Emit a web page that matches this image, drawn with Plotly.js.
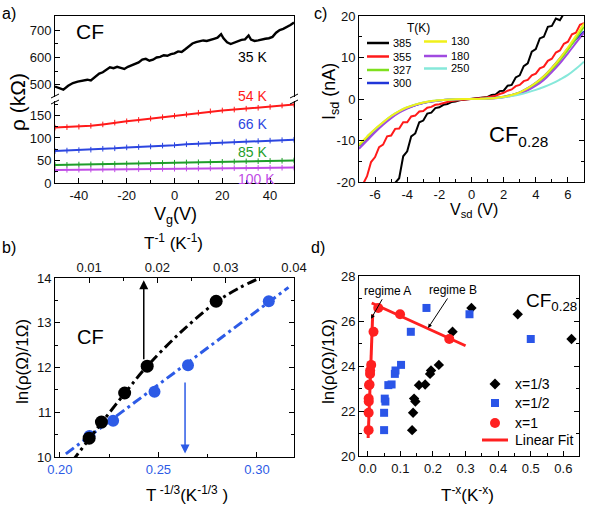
<!DOCTYPE html>
<html><head><meta charset="utf-8">
<script src="https://cdn.plot.ly/plotly-3.0.1.min.js"></script>
<style>html,body{margin:0;padding:0;background:#fff}#chart{width:600px;height:508px}</style>
</head><body><div id="chart"></div>
<script>
// ---------- Panel a: rho vs Vg ----------
const vg35 = [-50,-48.5,-46.5,-44.5,-42.5,-40.5,-38.5,-36.5,-35,-33.5,-31.5,-30,-28.5,-27,-25.5,-24,-22.5,-21,-19.5,-18,-16.5,-15,-13.5,-12,-10.5,-9,-7.5,-6,-4.5,-3,-1.5,0,1.5,3,4.5,6,7.5,9,10.5,12,13.5,15,16.5,18,19.5,20.5,22,23.5,25,26.5,28,29.5,31,32,33.5,35,36.5,38,39.5,41,42.5,44,45.5,47,48.5,50];
const rho35 = [494,490,483,497,507,512,515,519,516,528,541,546,556,564,561,566,562,558,566,571,576,582,592,595,588,592,600,602,608,606,612,615,622,620,630,640,651,656,658,662,660,665,668,672,685,670,655,649,654,658,664,666,680,665,660,662,666,668,670,675,690,700,704,710,718,727];
const vgLow = [-50,-45,-40,-35,-30,-25,-20,-15,-10,-5,0,5,10,15,20,25,30,35,40,45,50];
const rho54 = [123,124,125,127,130,134,137,140,143,146,149,152,156,159,161,163,165,167,169,172,174];
const rho66 = [71,72,73,74,76,77,79,80,81,83,84,86,87,89,90,91,92,93,94,95,96];
const rho85 = [40,40.3,41,41.4,42,42.3,43,43.5,44,44.4,45,45.6,46,46.4,47,47.5,48,48.4,49,49.4,50];
const rho100 = [29,29.2,29.5,29.8,30,30.3,30.6,30.9,31.2,31.4,31.7,32,32.3,32.5,32.8,33,33.3,33.5,33.7,33.9,34.2];
const aTempLabels = ['35 K','54 K','66 K','85 K','100 K'];
const aXTickVals = [-40,-20,0,20,40];
const aXTickText = ['-40','-20','0','20','40'];
const aYLowTicks = [0,50,100,150];
const aYHighTicks = [500,600,700];

// ---------- Panel b: ln(rho) vs T^-1 and T^-1/3 ----------
const invT = [0.0100,0.0118,0.0152,0.0185,0.0286];
const lnRhoInvT = [10.42,10.78,11.43,12.03,13.48];
const tCubeRoot = [0.215,0.227,0.248,0.265,0.306];
const lnRhoCube = [10.47,10.81,11.46,12.05,13.48];
const fitInvTx = [0.0075,0.0100,0.0118,0.0152,0.0185,0.0235,0.0286,0.0320,0.0350];
const fitInvTy = [9.90,10.40,10.76,11.42,12.03,12.80,13.46,13.78,14.00];
const fitCubeX = [0.203,0.316];
const fitCubeY = [10.07,13.79];
const bTopTicks = [0.01,0.02,0.03,0.04];
const bTopText = ['0.01','0.02','0.03','0.04'];
const bBotTicks = [0.20,0.25,0.30];
const bBotText = ['0.20','0.25','0.30'];

// ---------- Panel c: Isd vs Vsd ----------
const vsd = [-7,-6.5,-6,-5.5,-5,-4.5,-4,-3.5,-3,-2.5,-2,-1.5,-1,-0.5,0,0.5,1,1.5,2,2.5,3,3.5,4,4.5,5,5.5,6,6.5,7];
const vsd385 = [-5,-4.75,-4.5,-4.25,-4,-3.75,-3.5,-3.25,-3,-2.75,-2.5,-2.25,-2,-1.75,-1.5,-1.25,-1,-0.75,-0.5,-0.25,0,0.25,0.5,0.75,1,1.25,1.5,1.75,2,2.25,2.5,2.75,3,3.25,3.5,3.75,4,4.25,4.5,4.75,5,5.25,5.5,5.75,6];
const i385 = [-24,-20.2,-19.1,-13.8,-12.6,-9.0,-8.3,-5.6,-5.2,-3.5,-3.3,-2.2,-2.0,-1.4,-1.2,-0.75,-0.6,-0.3,-0.2,-0.08,0,0.1,0.18,0.4,0.5,0.95,1.1,1.9,2.0,3.2,3.4,5.2,5.7,7.9,8.6,11.4,12.0,14.6,15.0,17.4,17.6,19.4,19.0,20.6,21];
const vsd355 = [-7,-6.75,-6.5,-6.25,-6,-5.75,-5.5,-5.25,-5,-4.75,-4.5,-4.25,-4,-3.75,-3.5,-3.25,-3,-2.75,-2.5,-2.25,-2,-1.75,-1.5,-1.25,-1,-0.75,-0.5,-0.25,0,0.25,0.5,0.75,1,1.25,1.5,1.75,2,2.25,2.5,2.75,3,3.25,3.5,3.75,4,4.25,4.5,4.75,5,5.25,5.5,5.75,6,6.25,6.5,6.75,7];
const i355 = [-25,-20.5,-18.6,-15.2,-14.0,-11.6,-11.0,-9.0,-8.8,-7.2,-7.1,-5.6,-5.6,-4.2,-4.0,-3.0,-2.9,-2.1,-1.9,-1.4,-1.25,-0.9,-0.72,-0.5,-0.36,-0.2,-0.1,-0.04,0,0.06,0.15,0.28,0.4,0.62,0.8,1.2,1.5,2.0,2.3,3.1,3.4,4.3,4.6,5.7,6.1,7.4,7.8,9.2,9.7,11.2,11.7,13.3,13.8,15.6,16.0,17.9,18.3];
const i327 = [-11.2,-9.3,-7.4,-5.7,-4.2,-3.0,-2.1,-1.4,-0.9,-0.55,-0.33,-0.18,-0.08,-0.02,0,0.03,0.1,0.25,0.5,0.9,1.5,2.4,3.6,5.1,7.0,9.3,11.8,14.6,17.4];
const i300 = [-11.3,-9.4,-7.5,-5.8,-4.3,-3.1,-2.2,-1.5,-0.95,-0.6,-0.35,-0.2,-0.1,-0.03,0,0.04,0.12,0.28,0.55,1.0,1.6,2.6,3.9,5.5,7.5,9.8,12.2,14.4,16.3];
const i130 = [-11.0,-9.1,-7.2,-5.6,-4.1,-2.9,-2.0,-1.35,-0.85,-0.5,-0.3,-0.16,-0.07,-0.02,0,0.03,0.1,0.26,0.52,0.95,1.6,2.6,3.9,5.5,7.5,9.8,12.4,15.2,18.2];
const i180 = [-12.0,-10.0,-8.0,-6.2,-4.6,-3.3,-2.3,-1.5,-0.95,-0.6,-0.35,-0.18,-0.08,-0.02,0,0.02,0.08,0.2,0.42,0.8,1.3,2.1,3.2,4.6,6.5,8.6,11.0,13.5,16.0];
const i250 = [null,-9.0,-7.3,-5.6,-4.1,-2.9,-2.0,-1.35,-0.85,-0.5,-0.3,-0.16,-0.07,-0.02,0,0.03,0.1,0.22,0.42,0.72,1.1,1.6,2.2,2.9,3.7,4.7,5.8,7.3,9.0];
const cXTickVals = [-6,-4,-2,0,2,4,6];
const cXTickText = ['-6','-4','-2','0','2','4','6'];
const cYTickVals = [-20,-10,0,10,20];
const cYTickText = ['-20','-10','0','10','20'];

// ---------- Panel d: ln(rho) vs T^-x ----------
const lnRhoD = [21.15,21.92,22.42,22.55,23.15,23.18,23.65,23.80,24.05,25.52,26.58,26.30,25.20];
const xThird = [0.136,0.139,0.146,0.142,0.157,0.176,0.191,0.194,0.218,0.260,0.318,0.460,0.625];
const xHalf = [0.050,0.050,0.054,0.052,0.063,0.073,0.083,0.085,0.102,0.132,0.180,0.312,0.500];
const xOne = [0.0025,0.0026,0.0029,0.0027,0.0040,0.0053,0.0069,0.0072,0.0104,0.0175,0.032,0.099,0.250];
const fitAx = [0.001,0.015], fitAy = [20.8,26.3];
const fitBx = [0.012,0.300], fitBy = [26.8,24.9];
const dLegend = ['x=1/3','x=1/2','x=1','Linear Fit'];
const dXTickVals = [0,0.1,0.2,0.3,0.4,0.5,0.6];
const dXTickText = ['0.0','0.1','0.2','0.3','0.4','0.5','0.6'];
const dYTicks = [20,22,24,26,28];

// ---------- helpers ----------
const W = 600, H = 508;
const PX = p => p / W;
const PY = p => 1 - p / H;
const FONT = 'Liberation Sans, Arial, sans-serif';
const cBlack = '#000000', cRed = '#ff1a1a', cBlueA = '#2c46e0', cGreenA = '#1f9e2a', cMag = '#c04ce6';
const cBlueB = '#2d5be6';
const cCol = {'385':'#000000','355':'#ff1a1a','327':'#7fe01e','300':'#2036d8','130':'#f0f01a','180':'#a04ae0','250':'#86e8da'};
const dRed = '#ff2020', dBlue = '#2a55e8';

function axis(o) {
  return Object.assign({
    showline: true, linecolor: '#000', linewidth: 1, ticks: 'inside', ticklen: 5, tickwidth: 1,
    tickcolor: '#000', showgrid: false, zeroline: false, automargin: false, fixedrange: true,
    tickfont: {family: FONT, size: 13, color: '#111'}
  }, o);
}
function minor(d) { return {ticks: 'inside', ticklen: 3, dtick: d, tickcolor: '#000', showgrid: false}; }

const traces = [];
// panel a
traces.push({x: vg35, y: rho35, xaxis: 'x2', yaxis: 'y2', mode: 'lines', line: {color: cBlack, width: 2.4}});
[[rho54, cRed], [rho66, cBlueA], [rho85, cGreenA], [rho100, cMag]].forEach(([r, c]) => {
  traces.push({x: vgLow, y: r, xaxis: 'x', yaxis: 'y', mode: 'lines+markers', line: {color: c, width: 2},
    marker: {symbol: 'line-ns-open', size: 4, line: {color: c, width: 1}}});
});
// panel b
traces.push({x: fitInvTx, y: fitInvTy, xaxis: 'x4', yaxis: 'y3', mode: 'lines', line: {color: cBlack, width: 3, dash: '10px,4px,3px,4px', shape: 'spline'}});
traces.push({x: fitCubeX, y: fitCubeY, xaxis: 'x3', yaxis: 'y3', mode: 'lines', line: {color: cBlueB, width: 3, dash: '10px,4px,3px,4px'}});
traces.push({x: invT, y: lnRhoInvT, xaxis: 'x4', yaxis: 'y3', mode: 'markers', marker: {color: cBlack, size: 13}});
traces.push({x: tCubeRoot, y: lnRhoCube, xaxis: 'x3', yaxis: 'y3', mode: 'markers', marker: {color: cBlueB, size: 12}});
// panel c
const curves = {'385': [vsd385, i385], '355': [vsd355, i355], '327': [vsd, i327], '300': [vsd, i300], '130': [vsd, i130], '180': [vsd, i180], '250': [vsd, i250]};
['385','355','300','327','180','250','130'].forEach(t => {
  const smooth = (t !== '385' && t !== '355');
  traces.push({x: curves[t][0], y: curves[t][1], xaxis: 'x5', yaxis: 'y5', mode: 'lines', name: t,
    line: {color: cCol[t], width: 2, shape: smooth ? 'spline' : 'linear'}});
});
// panel d
traces.push({x: fitAx, y: fitAy, xaxis: 'x6', yaxis: 'y6', mode: 'lines', line: {color: dRed, width: 3}, name: dLegend[3]});
traces.push({x: fitBx, y: fitBy, xaxis: 'x6', yaxis: 'y6', mode: 'lines', line: {color: dRed, width: 3}, name: dLegend[3]});
traces.push({x: xThird, y: lnRhoD, xaxis: 'x6', yaxis: 'y6', mode: 'markers', marker: {symbol: 'diamond', color: '#000', size: 8}, name: dLegend[0]});
traces.push({x: xHalf, y: lnRhoD, xaxis: 'x6', yaxis: 'y6', mode: 'markers', marker: {symbol: 'square', color: dBlue, size: 8}, name: dLegend[1]});
traces.push({x: xOne, y: lnRhoD, xaxis: 'x6', yaxis: 'y6', mode: 'markers', marker: {symbol: 'circle', color: dRed, size: 10}, name: dLegend[2]});

function ann(px, py, text, o) {
  return Object.assign({xref: 'paper', yref: 'paper', x: PX(px), y: PY(py), text: text, showarrow: false,
    font: {family: FONT, size: 13, color: '#000'}, xanchor: 'center', yanchor: 'middle'}, o || {});
}
const F = (s, c) => ({family: FONT, size: s, color: c || '#000'});

const annotations = [
  ann(9, 14, 'a)', {font: F(16)}), ann(9, 247, 'b)', {font: F(16)}),
  ann(320, 14, 'c)', {font: F(16)}), ann(318, 247, 'd)', {font: F(16)}),
  // panel a
  ann(90, 31, 'CF', {font: F(21)}),
  ann(252, 57, aTempLabels[0], {font: F(14)}),
  ann(252, 96, aTempLabels[1], {font: F(14, cRed)}),
  ann(252, 124, aTempLabels[2], {font: F(14, cBlueA)}),
  ann(252, 152, aTempLabels[3], {font: F(14, cGreenA)}),
  ann(256, 179, aTempLabels[4], {font: F(14, cMag)}),
  ann(18, 102, 'ρ (kΩ)', {font: F(21), textangle: -90}),
  ann(175, 215, 'V<sub>g</sub>(V)', {font: F(18)}),
  // panel b
  ann(90, 337, 'CF', {font: F(20)}),
  ann(173, 242, 'T<sup>-1</sup> (K<sup>-1</sup>)', {font: F(17)}),
  ann(187, 494, 'T<sup> -1/3</sup>(K<sup>-1/3</sup> )', {font: F(17)}),
  ann(22, 362, 'ln(ρ(Ω)/1Ω)', {font: F(17), textangle: -90}),
  {xref: 'x4', yref: 'y3', axref: 'x4', ayref: 'y3', x: 0.0180, y: 13.95, ax: 0.0180, ay: 12.15, text: '', showarrow: true, arrowhead: 2, arrowsize: 1.2, arrowwidth: 1.5, arrowcolor: '#000'},
  {xref: 'x3', yref: 'y3', axref: 'x3', ayref: 'y3', x: 0.2635, y: 10.08, ax: 0.2635, ay: 11.7, text: '', showarrow: true, arrowhead: 2, arrowsize: 1.2, arrowwidth: 1.5, arrowcolor: cBlueB},
  // panel c
  ann(418, 28, 'T(K)', {font: F(12)}),
  ann(487, 136, 'CF<sub>0.28</sub>', {font: F(22), xanchor: 'left'}),
  ann(330, 92, 'I<sub>sd</sub> (nA)', {font: F(18), textangle: -90}),
  ann(474, 211, 'V<sub>sd</sub> (V)', {font: F(16)}),
  // panel d
  ann(524, 302, 'CF<sub>0.28</sub>', {font: F(19), xanchor: 'left'}),
  ann(328, 362, 'ln(ρ(Ω)/1Ω)', {font: F(17), textangle: -90}),
  ann(467, 494, 'T<sup>-x</sup>(K<sup>-x</sup>)', {font: F(17)}),
  {xref: 'x6', yref: 'y6', x: 0.010, y: 26.1, ax: 16, ay: -28, text: 'regime A', showarrow: true, arrowhead: 2, arrowsize: 0.8, arrowwidth: 1, arrowcolor: '#000', font: F(12)},
  {xref: 'x6', yref: 'y6', x: 0.185, y: 25.69, ax: 25, ay: -38, text: 'regime B', showarrow: true, arrowhead: 2, arrowsize: 0.8, arrowwidth: 1, arrowcolor: '#000', font: F(12)}
];
// panel c legend texts
const legLeft = ['385','355','327','300'], legLeftY = [43, 56.5, 70, 83];
const legRight = ['130','180','250'], legRightY = [41.5, 56, 68.5];
legLeft.forEach((t, i) => annotations.push(ann(391, legLeftY[i], t, {font: F(11), xanchor: 'left'})));
legRight.forEach((t, i) => annotations.push(ann(449, legRightY[i], t, {font: F(11), xanchor: 'left'})));
// panel d legend texts
const dLegY = [384, 403, 423, 440];
dLegend.forEach((t, i) => annotations.push(ann(513, dLegY[i], t, {font: F(14), xanchor: 'left'})));

const shapes = [];
const P = {xref: 'paper', yref: 'paper'};
legLeft.forEach((t, i) => shapes.push(Object.assign({type: 'line', x0: PX(367), x1: PX(389), y0: PY(legLeftY[i]), y1: PY(legLeftY[i]), line: {color: cCol[t], width: 2.5}}, P)));
legRight.forEach((t, i) => shapes.push(Object.assign({type: 'line', x0: PX(424), x1: PX(447), y0: PY(legRightY[i]), y1: PY(legRightY[i]), line: {color: cCol[t], width: 2.5}}, P)));
// panel d legend symbols
const cx = 495;
shapes.push(Object.assign({type: 'path', path: `M ${PX(cx-5.5)} ${PY(dLegY[0])} L ${PX(cx)} ${PY(dLegY[0]-5.5)} L ${PX(cx+5.5)} ${PY(dLegY[0])} L ${PX(cx)} ${PY(dLegY[0]+5.5)} Z`, fillcolor: '#000', line: {width: 0}}, P));
shapes.push(Object.assign({type: 'rect', x0: PX(cx-4), x1: PX(cx+4), y0: PY(dLegY[1]-4), y1: PY(dLegY[1]+4), fillcolor: dBlue, line: {width: 0}}, P));
shapes.push(Object.assign({type: 'circle', x0: PX(cx-5), x1: PX(cx+5), y0: PY(dLegY[2]-5), y1: PY(dLegY[2]+5), fillcolor: dRed, line: {width: 0}}, P));
shapes.push(Object.assign({type: 'line', x0: PX(482), x1: PX(508), y0: PY(dLegY[3]), y1: PY(dLegY[3]), line: {color: dRed, width: 3}}, P));
// axis break marks in panel a
[55, 294].forEach(px => {
  shapes.push(Object.assign({type: 'line', x0: PX(px - 4), x1: PX(px + 4), y0: PY(98), y1: PY(94), line: {color: '#000', width: 1}}, P));
  shapes.push(Object.assign({type: 'line', x0: PX(px - 4), x1: PX(px + 4), y0: PY(104), y1: PY(100), line: {color: '#000', width: 1}}, P));
});

const layout = {
  width: W, height: H, margin: {l: 0, r: 0, t: 0, b: 0}, paper_bgcolor: '#fff', plot_bgcolor: '#fff',
  font: {family: FONT, color: '#000'},
  showlegend: false,
  // panel a
  xaxis: axis({domain: [PX(55), PX(294)], anchor: 'y', range: [-50, 50], tickvals: aXTickVals, ticktext: aXTickText, minor: minor(10)}),
  yaxis: axis({domain: [PY(183), PY(101)], anchor: 'x', range: [0, 182], tickvals: aYLowTicks, mirror: true, minor: minor(25)}),
  xaxis2: axis({domain: [PX(55), PX(294)], anchor: 'y2', side: 'top', range: [-50, 50], showticklabels: false, ticks: ''}),
  yaxis2: axis({domain: [PY(97), PY(16)], anchor: 'x2', range: [456, 751], tickvals: aYHighTicks, mirror: true, minor: minor(50)}),
  // panel b
  xaxis3: axis({domain: [PX(55), PX(294)], anchor: 'y3', range: [0.1975, 0.3188], tickvals: bBotTicks, ticktext: bBotText, tickfont: F(13, cBlueB), minor: minor(0.025)}),
  xaxis4: axis({overlaying: 'x3', anchor: 'y3', side: 'top', range: [0.0050, 0.0400], tickvals: bTopTicks, ticktext: bTopText, minor: minor(0.005)}),
  yaxis3: axis({domain: [PY(457), PY(278)], anchor: 'x3', range: [10, 14], dtick: 1, mirror: 'ticks', minor: minor(0.5)}),
  // panel c
  xaxis5: axis({domain: [PX(359), PX(584)], anchor: 'y5', range: [-7, 7], tickvals: cXTickVals, ticktext: cXTickText, mirror: true, minor: minor(1)}),
  yaxis5: axis({domain: [PY(182), PY(16)], anchor: 'x5', range: [-20, 20], tickvals: cYTickVals, ticktext: cYTickText, mirror: 'ticks', minor: minor(5)}),
  // panel d
  xaxis6: axis({domain: [PX(359), PX(579)], anchor: 'y6', range: [-0.027, 0.648], tickvals: dXTickVals, ticktext: dXTickText, mirror: true, minor: minor(0.05)}),
  yaxis6: axis({domain: [PY(456), PY(276)], anchor: 'x6', range: [20, 28], tickvals: dYTicks, mirror: 'ticks', minor: minor(1)}),
  annotations: annotations,
  shapes: shapes
};
Plotly.newPlot('chart', traces, layout, {staticPlot: true, displayModeBar: false});
</script>
</body></html>
